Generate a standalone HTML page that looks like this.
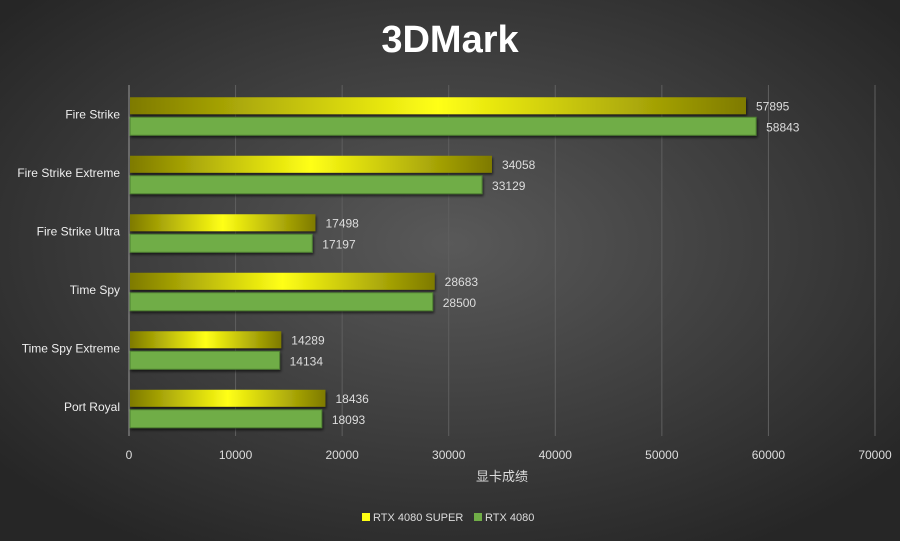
<!DOCTYPE html>
<html><head><meta charset="utf-8"><style>
html,body{margin:0;padding:0;width:900px;height:541px;overflow:hidden;}
svg{display:block;font-family:"Liberation Sans","Noto Sans CJK SC",sans-serif;}
</style></head><body>
<svg id="chart" width="900" height="541" viewBox="0 0 900 541">
<defs>
<radialGradient id="bg" cx="50%" cy="45%" r="65%">
<stop offset="0" stop-color="#595959"/><stop offset="1" stop-color="#262626"/></radialGradient>
<linearGradient id="yg" x1="0" x2="1" y1="0" y2="0">
<stop offset="0" stop-color="#7e7a00"/><stop offset="0.5" stop-color="#ffff14"/><stop offset="1" stop-color="#7e7a00"/></linearGradient>
<filter id="sh" x="-5%" y="-20%" width="110%" height="160%"><feDropShadow dx="1" dy="2" stdDeviation="1.2" flood-color="#000" flood-opacity="0.6"/></filter>
</defs>
<rect width="900" height="541" fill="url(#bg)"/>
<text x="450" y="52" text-anchor="middle" fill="#fff" font-size="38" font-weight="bold">3DMark</text>
<g id="grid"></g><g id="bars"></g><g id="labels"></g>
<text x="502" y="481" text-anchor="middle" fill="#ddd" font-size="13">显卡成绩</text>
<g>
<rect x="362" y="513" width="8" height="8" fill="#ffff14"/>
<text x="373" y="521" fill="#ddd" font-size="11">RTX 4080 SUPER</text>
<rect x="474" y="513" width="8" height="8" fill="#70ad47"/>
<text x="485" y="521" fill="#ddd" font-size="11">RTX 4080</text>
</g>
</svg>
<script>
const categories=["Fire Strike","Fire Strike Extreme","Fire Strike Ultra","Time Spy","Time Spy Extreme","Port Royal"];
const superValues=[57895,34058,17498,28683,14289,18436];
const rtx4080Values=[58843,33129,17197,28500,14134,18093];
const ticks=[0,10000,20000,30000,40000,50000,60000,70000];
const NS="http://www.w3.org/2000/svg";
const x0=129,x1=875,plotTop=85,plotBottom=436,xmax=70000;
const xs=v=>x0+v/xmax*(x1-x0);
const band=(plotBottom-plotTop)/categories.length;
function mk(tag,attrs,parent){const e=document.createElementNS(NS,tag);for(const k in attrs)e.setAttribute(k,attrs[k]);parent.appendChild(e);return e;}
const grid=document.getElementById('grid'),bars=document.getElementById('bars'),labels=document.getElementById('labels');
ticks.forEach((t,i)=>{
 const l=mk('line',{x1:xs(t),x2:xs(t),y1:plotTop,y2:plotBottom,stroke:i==0?'#999':'#5f5f5f','stroke-width':1},grid);
 
 
 const tx=mk('text',{x:xs(t),y:459,'text-anchor':'middle',fill:'#ddd','font-size':12},grid);
 tx.textContent=t;
 
 
});
categories.forEach((c,i)=>{
 const cy=plotTop+band*i+band/2+2;
 const cl=mk('text',{x:120,y:cy+2,'text-anchor':'end',fill:'#eee','font-size':12},labels);
 cl.textContent=c;
 
 
 const b1=mk('rect',{x:x0+1,y:cy-19,width:xs(superValues[i])-x0-1,height:17,fill:'url(#yg)',filter:'url(#sh)'},bars);
 
 
 const b2=mk('rect',{x:x0+1,y:cy+1,width:xs(rtx4080Values[i])-x0-1,height:18,fill:'#70ad47',stroke:'#4e7f30','stroke-width':1,filter:'url(#sh)'},bars);
 
 
 const v1=mk('text',{x:xs(superValues[i])+10,y:cy-6,fill:'#ddd','font-size':12},labels);
 v1.textContent=superValues[i];
 
 
 const v2=mk('text',{x:xs(rtx4080Values[i])+10,y:cy+15,fill:'#ddd','font-size':12},labels);
 v2.textContent=rtx4080Values[i];
 
 
});
</script>
</body></html>
